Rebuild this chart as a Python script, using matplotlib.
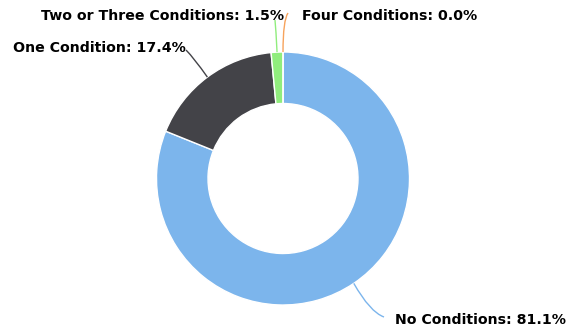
import numpy as np
import matplotlib.pyplot as plt
from matplotlib.path import Path
from matplotlib.patches import PathPatch

W, H = 568, 329

labels = ['No Conditions', 'One Condition', 'Two or Three Conditions', 'Four Conditions']
shares = [81.1, 17.4, 1.5, 0.0]
colors = ['#7cb5ec', '#434348', '#90ed7d', '#f7a35c']

# label anchors (left edge, vertical centre) and connector bend points, in pixels from top-left
label_xy = [(395, 320), (13, 48), (41, 16), (302, 16)]
bend_xy = [(370, 312), (194, 58), (276, 30), (283, 20)]
end_xy = [(384, 317), (186, 50), (275, 20), (288, 13)]

cx, cy = 283, 178.5
r_out, r_in = 126.5, 75


def flip(p):
    return (p[0], H - p[1])


fig = plt.figure(figsize=(W / 100, H / 100), dpi=100)
ax = fig.add_axes([0, 0, 1, 1])

ax.pie(shares, colors=colors, startangle=90, counterclock=False,
       center=(cx, H - cy), radius=r_out,
       wedgeprops=dict(width=r_out - r_in, edgecolor='white', linewidth=1))

ax.set_xlim(0, W)
ax.set_ylim(0, H)
ax.set_aspect('equal')
ax.axis('off')

# connectors from the middle of each slice's outer edge to its label
total = sum(shares)
start = 0.0
for i, (name, val) in enumerate(zip(labels, shares)):
    mid = start + val / 2
    start += val
    ang = np.deg2rad(90 - 360 * mid / total)
    p0 = (cx + r_out * np.cos(ang), (H - cy) + r_out * np.sin(ang))
    verts = [p0, flip(bend_xy[i]), flip(end_xy[i])]
    path = Path(verts, [Path.MOVETO, Path.CURVE3, Path.CURVE3])
    ax.add_patch(PathPatch(path, fill=False, edgecolor=colors[i], lw=1, zorder=1))

    tx, ty = flip(label_xy[i])
    ax.text(tx, ty, f'{name}: {val:.1f}%', ha='left', va='center',
            fontsize=10.2, fontweight='bold', color='black', zorder=5)

fig.savefig('out.png', dpi=100, facecolor='white')
